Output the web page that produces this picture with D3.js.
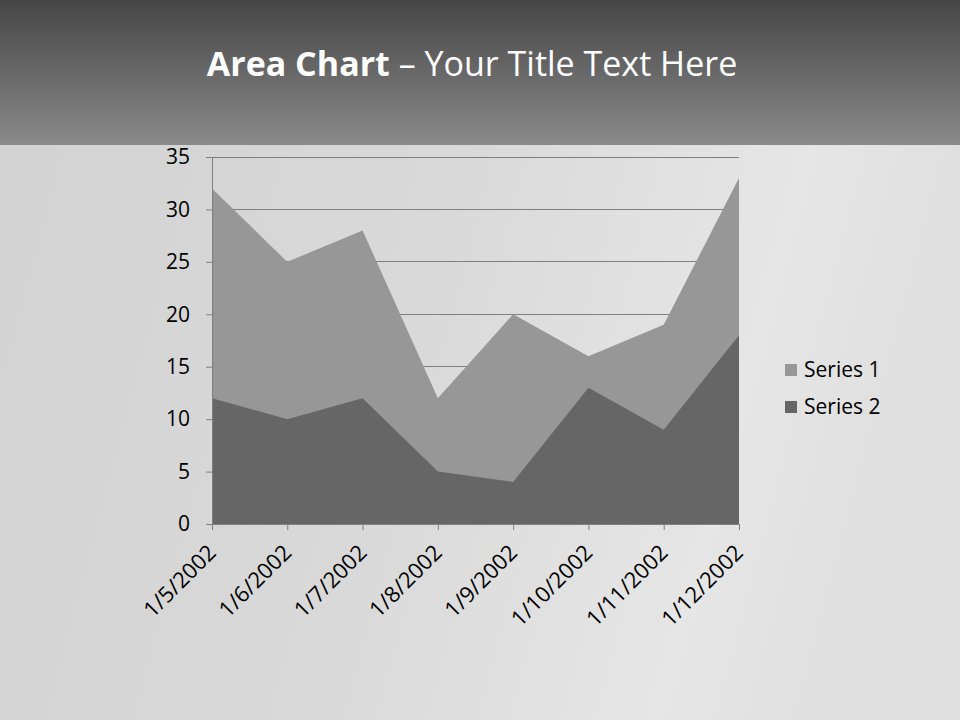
<!DOCTYPE html>
<html><head><meta charset="utf-8">
<script src="https://cdn.jsdelivr.net/npm/d3@7"></script>
<style>html,body{margin:0;padding:0;background:#d9d9d9;}svg{display:block;}</style>
</head><body>
<script>
const categories = ["1/5/2002","1/6/2002","1/7/2002","1/8/2002","1/9/2002","1/10/2002","1/11/2002","1/12/2002"];
const series1 = [32,25,28,12,20,16,19,33];
const series2 = [12,10,12,5,4,13,9,18];
const seriesNames = ["Series 1","Series 2"];
const seriesColors = ["#979797","#666666"];
const yTicks = [0,5,10,15,20,25,30,35];

const W = 960, H = 720;
const svg = d3.select("body").append("svg").attr("width", W).attr("height", H);
const defs = svg.append("defs");

const bg = defs.append("linearGradient").attr("id","bg").attr("x1","0").attr("y1","0").attr("x2","1").attr("y2","0.2");
bg.append("stop").attr("offset","0").attr("stop-color","#d2d2d2");
bg.append("stop").attr("offset","0.5").attr("stop-color","#d9d9d9");
bg.append("stop").attr("offset","0.85").attr("stop-color","#e6e6e6");
bg.append("stop").attr("offset","1").attr("stop-color","#e0e0e0");
svg.append("rect").attr("width",W).attr("height",H).attr("fill","url(#bg)");

const hd = defs.append("linearGradient").attr("id","hd").attr("x1","0").attr("y1","0").attr("x2","0").attr("y2","1");
hd.append("stop").attr("offset","0").attr("stop-color","#464646");
hd.append("stop").attr("offset","1").attr("stop-color","#8a8a8a");
svg.append("rect").attr("width",W).attr("height",145).attr("fill","url(#hd)");

const title = svg.append("text").attr("x",472).attr("y",76).attr("text-anchor","middle")
  .attr("fill","#ffffff").style("font-family","'Open Sans', Lato, sans-serif").style("font-size","34px");
title.append("tspan").attr("font-weight","bold").text("Area Chart");
title.append("tspan").text(" – Your Title Text Here");

const x0 = 212, x1 = 739, yTop = 157, yBot = 524;
const x = d3.scalePoint().domain(categories).range([x0, x1]);
const y = d3.scaleLinear().domain([0,35]).range([yBot, yTop]);

// gridlines
svg.append("g").selectAll("line").data(yTicks.filter(d=>d>0)).join("line")
  .attr("x1",x0).attr("x2",x1).attr("y1",d=>y(d)).attr("y2",d=>y(d))
  .attr("stroke","#7f7f7f").attr("stroke-width",1).attr("shape-rendering","crispEdges");

const area = d3.area().x((d,i)=>x(categories[i])).y0(y(0)).y1(d=>y(d));
[series1, series2].forEach((s,k)=>{
  svg.append("path").datum(s).attr("d",area).attr("fill",seriesColors[k]);
});

const font = "'Open Sans', Lato, sans-serif";
// y axis
const yAxis = svg.append("g").attr("transform",`translate(${x0},0)`)
  .call(d3.axisLeft(y).tickValues(yTicks).tickSize(6).tickPadding(16));
yAxis.select(".domain").attr("stroke","#808080");
yAxis.selectAll(".tick line").attr("stroke","#808080");
yAxis.selectAll("text").attr("fill","#000").style("font-family",font).style("font-size","21px");

// x axis
const xAxis = svg.append("g").attr("transform",`translate(0,${yBot})`)
  .call(d3.axisBottom(x).tickSize(6).tickSizeOuter(0));
xAxis.select(".domain").attr("stroke","#808080");
xAxis.selectAll(".tick line").attr("stroke","#808080");
xAxis.selectAll("text").attr("fill","#000").style("font-family",font).style("font-size","22px")
  .attr("text-anchor","end").attr("dy","0").attr("y",0)
  .attr("transform","translate(5,30) rotate(-45)");

// legend
const lg = svg.append("g");
seriesNames.forEach((n,i)=>{
  const cy = 370 + i*37;
  lg.append("rect").attr("x",785).attr("y",cy-6).attr("width",12).attr("height",12).attr("fill",seriesColors[i]);
  lg.append("text").attr("x",804).attr("y",cy).attr("dy","0.35em").attr("fill","#000")
    .style("font-family",font).style("font-size","21px").text(n);
});
</script>
</body></html>
